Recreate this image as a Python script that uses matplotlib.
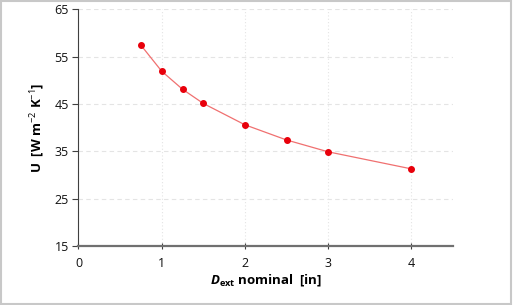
import matplotlib.pyplot as plt
from matplotlib.patches import Rectangle

d_ext = [0.75, 1.0, 1.25, 1.5, 2.0, 2.5, 3.0, 4.0]
u_val = [57.4, 51.9, 48.1, 45.1, 40.6, 37.4, 34.9, 31.3]
x_ticks = [0, 1, 2, 3, 4]
y_ticks = [15, 25, 35, 45, 55, 65]

plt.rcParams['font.family'] = ['Open Sans', 'DejaVu Sans']
plt.rcParams['mathtext.fontset'] = 'custom'
plt.rcParams['mathtext.rm'] = 'Open Sans'
plt.rcParams['mathtext.bf'] = 'Open Sans:bold'
plt.rcParams['mathtext.it'] = 'Open Sans:italic'
plt.rcParams['mathtext.bfit'] = 'Open Sans:bold:italic'


def main():
    fig = plt.figure(figsize=(5.13, 3.05), dpi=100)
    ax = fig.add_axes([0.153, 0.193, 0.730, 0.777])
    ax.plot(d_ext, u_val, color='#f07070', lw=0.9, marker='o', ms=4,
            mfc='#e8000b', mec='#e8000b', zorder=3)
    ax.set_xlim(0, 4.5)
    ax.set_ylim(15, 65)
    ax.set_xticks(x_ticks)
    ax.set_yticks(y_ticks)
    ax.yaxis.grid(True, ls=(0, (4, 3)), color='#e4e4e4', lw=0.8)
    ax.xaxis.grid(True, ls=(0, (1, 2)), color='#e4e4e4', lw=0.8)
    ax.set_axisbelow(True)
    for s in ['top', 'right']:
        ax.spines[s].set_visible(False)
    ax.spines['left'].set_color('#404040')
    ax.spines['bottom'].set_color('#707070')
    ax.spines['bottom'].set_linewidth(1.6)
    ax.tick_params(axis='y', direction='out', length=4, color='#404040',
                   labelsize=9, labelcolor='#111111', pad=3)
    ax.tick_params(axis='x', direction='inout', length=5, color='#404040',
                   labelsize=9, labelcolor='#111111', pad=5)
    ax.set_ylabel(r'U  [W m$^{-2}$ K$^{-1}$]', fontsize=9.5, fontweight='bold',
                  labelpad=5)
    ax.set_xlabel(r'$\mathbfit{D}_{\mathbf{ext}}$ nominal  [in]', fontsize=9.5,
                  fontweight='bold', labelpad=2)
    fig.patches.append(Rectangle((0.002, 0.004), 0.994, 0.992,
                                 transform=fig.transFigure, fill=False,
                                 ec='#c8c8c8', lw=1.5))
    fig.savefig('out.png', dpi=100)


if __name__ == '__main__':
    main()
